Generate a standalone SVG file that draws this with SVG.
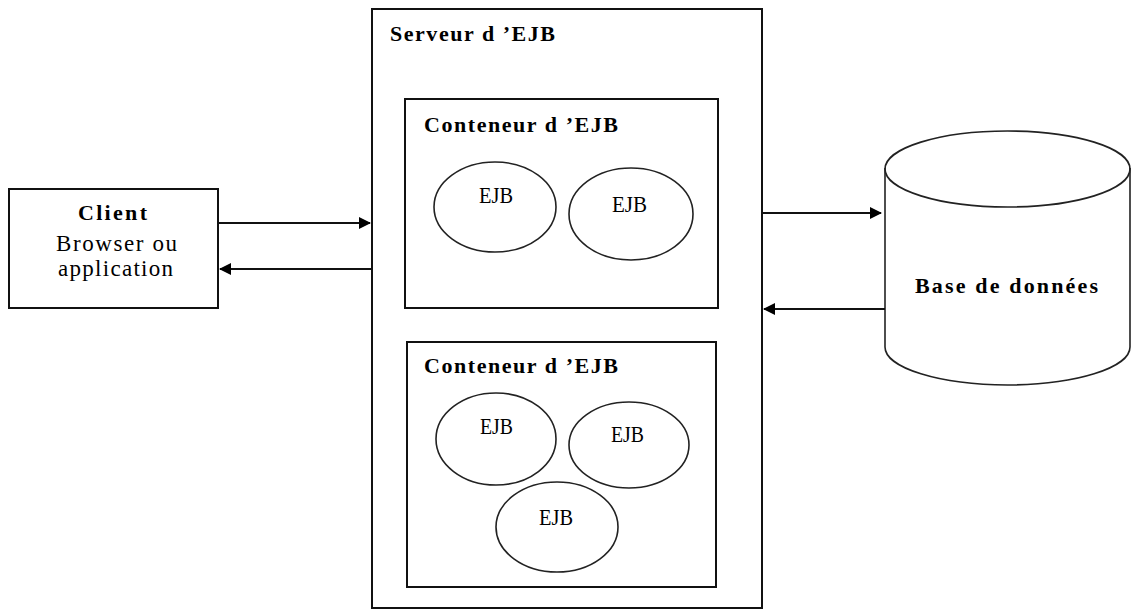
<svg xmlns="http://www.w3.org/2000/svg" width="1131" height="612" viewBox="0 0 1131 612">
<defs>
<style>
.box{fill:none;stroke:#111;stroke-width:2}
.ell{fill:none;stroke:#222;stroke-width:1.6}
.ln{fill:none;stroke:#111;stroke-width:2}
.t{font-family:"Liberation Serif",serif;font-size:23px;fill:#000}
.b{font-family:"Liberation Serif",serif;font-size:22px;font-weight:bold;fill:#000}
</style>
<marker id="ah" viewBox="0 0 12 12" refX="11" refY="6" markerWidth="12" markerHeight="12" markerUnits="userSpaceOnUse" orient="auto">
<path d="M0,0 L12,6 L0,12 z" fill="#000"/>
</marker>
</defs>
<rect width="1131" height="612" fill="#fff"/>
<g id="client">
<rect class="box" x="9" y="189" width="209" height="119"/>
<text class="b" x="78" y="220" textLength="69" lengthAdjust="spacing">Client</text>
<text class="t" x="56" y="251" textLength="121" lengthAdjust="spacing">Browser ou</text>
<text class="t" x="58" y="276" textLength="115" lengthAdjust="spacing">application</text>
</g>
<g id="serveur">
<rect class="box" x="372" y="9" width="390" height="599"/>
<text class="b" x="390" y="41" textLength="165" lengthAdjust="spacing">Serveur d ’EJB</text>
</g>
<g id="conteneur1">
<rect class="box" x="405" y="99" width="313" height="209"/>
<text class="b" x="424" y="132" textLength="194" lengthAdjust="spacing">Conteneur d ’EJB</text>
</g>
<g id="ejb1">
<ellipse class="ell" cx="495" cy="207" rx="61" ry="45"/>
<text class="t" x="479" y="203" textLength="34" lengthAdjust="spacingAndGlyphs">EJB</text>
</g>
<g id="ejb2">
<ellipse class="ell" cx="631" cy="214" rx="62" ry="46"/>
<text class="t" x="612" y="212" textLength="35" lengthAdjust="spacingAndGlyphs">EJB</text>
</g>
<g id="conteneur2">
<rect class="box" x="407" y="342" width="309" height="245"/>
<text class="b" x="424" y="373" textLength="194" lengthAdjust="spacing">Conteneur d ’EJB</text>
</g>
<g id="ejb3">
<ellipse class="ell" cx="496" cy="439" rx="60" ry="46"/>
<text class="t" x="480" y="434" textLength="33" lengthAdjust="spacingAndGlyphs">EJB</text>
</g>
<g id="ejb4">
<ellipse class="ell" cx="629" cy="445" rx="60" ry="43"/>
<text class="t" x="611" y="442" textLength="33" lengthAdjust="spacingAndGlyphs">EJB</text>
</g>
<g id="ejb5">
<ellipse class="ell" cx="557" cy="527" rx="61" ry="45"/>
<text class="t" x="539" y="525" textLength="34" lengthAdjust="spacingAndGlyphs">EJB</text>
</g>
<g id="database">
<path class="ell" d="M885,168 L885,347 A122.5,38 0 0 0 1130,347 L1130,168" fill="#fff"/>
<ellipse class="ell" cx="1007.5" cy="169" rx="122.5" ry="38"/>
<text class="b" x="915" y="293" textLength="183" lengthAdjust="spacing">Base de données</text>
</g>
<g id="connectors">
<line class="ln" x1="218" y1="223" x2="370" y2="223" marker-end="url(#ah)"/>
<line class="ln" x1="372" y1="269" x2="220" y2="269" marker-end="url(#ah)"/>
<line class="ln" x1="762" y1="213" x2="881" y2="213" marker-end="url(#ah)"/>
<line class="ln" x1="885" y1="309" x2="764" y2="309" marker-end="url(#ah)"/>
</g>
</svg>
